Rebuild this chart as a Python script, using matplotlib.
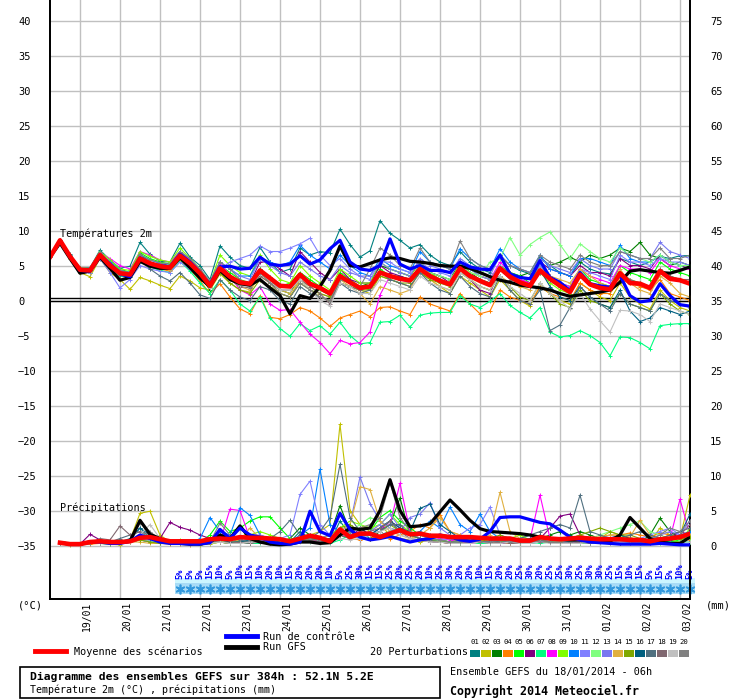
import matplotlib
matplotlib.use("Agg")
from matplotlib import pyplot as plt
from matplotlib.patches import Rectangle
from matplotlib.lines import Line2D

plt.rcParams['font.family'] = ['DejaVu Sans Mono', 'DejaVu Sans']

# run 18/01/2014 06h, one value every 6h up to 384h
HOURS_T = list(range(0, 385, 6))
HOURS_P = list(range(6, 385, 6))
DAY_HOURS = [18 + 24 * k for k in range(16)]
DATES = ["19/01", "20/01", "21/01", "22/01", "23/01", "24/01", "25/01", "26/01",
         "27/01", "28/01", "29/01", "30/01", "31/01", "01/02", "02/02", "03/02"]

# ---- temperatures 2m (degC), 65 values, 13 per row ----
T_MEAN = [6.2, 8.6, 6.3, 4.4, 4.3, 6.5, 5.0, 3.9, 3.7, 6.0, 5.3, 4.9, 4.7,
          6.4, 5.3, 3.9, 2.1, 4.6, 3.4, 2.6, 2.4, 4.3, 3.2, 2.1, 2.0, 3.7,
          2.4, 1.8, 1.0, 3.5, 2.6, 1.8, 2.0, 4.0, 3.5, 3.1, 2.9, 4.5, 3.5,
          2.8, 2.3, 4.6, 3.5, 2.8, 2.2, 4.6, 3.4, 2.6, 2.1, 4.3, 3.1, 2.1,
          1.2, 3.7, 2.3, 1.8, 1.6, 3.9, 2.5, 2.4, 1.8, 4.2, 3.1, 2.9, 2.4]
T_CTRL = [6.2, 8.5, 6.3, 4.3, 4.2, 6.4, 5.2, 3.8, 3.4, 6.1, 5.2, 5.0, 4.8,
          6.6, 5.5, 4.0, 2.3, 4.8, 4.9, 4.5, 4.6, 6.2, 5.2, 5.0, 5.2, 6.4,
          5.2, 5.8, 7.4, 8.6, 5.5, 4.5, 4.3, 5.0, 8.8, 5.2, 4.5, 5.0, 4.3,
          4.3, 4.0, 5.5, 4.8, 4.5, 4.4, 6.5, 3.8, 3.3, 3.1, 5.7, 3.3, 2.6,
          1.4, 4.0, 2.4, 2.1, 1.9, 3.6, 0.7, -0.2, 0.0, 2.4, 0.7, -0.6, -0.8]
T_GFS = [6.2, 8.2, 6.0, 3.9, 4.2, 6.2, 4.6, 2.9, 3.3, 5.6, 4.9, 4.6, 4.6,
         6.1, 4.7, 3.2, 2.0, 4.3, 3.0, 2.4, 2.2, 3.0, 1.8, 0.7, -1.9, 0.7,
         0.3, 2.0, 4.3, 7.8, 5.0, 4.8, 5.3, 5.8, 6.1, 6.0, 5.6, 5.5, 5.3,
         5.0, 4.9, 4.9, 4.6, 4.0, 3.4, 2.9, 2.6, 2.2, 2.0, 1.8, 1.5, 1.0,
         0.6, 0.8, 1.0, 1.2, 1.5, 2.6, 4.2, 4.4, 4.2, 4.0, 3.9, 4.3, 4.8]

T01 = [6.2, 8.5, 6.6, 4.6, 4.7, 7.2, 5.8, 4.6, 4.9, 8.3, 6.6, 5.6, 5.5,
       8.2, 6.2, 5.0, 3.0, 7.8, 6.2, 5.0, 4.6, 7.6, 5.5, 4.0, 4.5, 7.5,
       6.5, 7.0, 6.8, 10.2, 8.0, 6.2, 7.1, 11.4, 9.6, 8.6, 7.5, 8.0, 6.5,
       5.5, 5.0, 7.0, 5.5, 4.5, 4.0, 6.5, 5.0, 4.3, 3.8, 6.2, 5.0, 4.0,
       3.5, 5.5, 4.5, 4.0, 3.8, 6.0, 5.5, 5.0, 5.5, 6.3, 6.0, 6.4, 6.4]
T02 = [6.2, 8.3, 6.0, 4.0, 3.4, 6.0, 4.0, 3.0, 1.6, 3.3, 2.8, 2.2, 1.7,
       3.5, 2.8, 1.8, 1.5, 3.8, 2.5, 1.5, 1.2, 4.0, 2.5, 1.0, 0.5, 3.0,
       1.5, 0.5, 0.0, 2.5, 2.0, 1.5, 1.0, 3.5, 3.0, 2.5, 2.0, 4.0, 3.0,
       2.0, 1.0, 3.5, 2.5, 1.5, 0.5, 3.0, 1.5, 0.0, -0.8, 2.0, 1.0, 0.0,
       -0.5, 2.5, 1.5, 0.5, 0.0, 2.5, 0.5, -0.5, -1.2, 1.5, 0.0, -1.0, -1.5]
T03 = [6.2, 8.6, 6.4, 4.6, 4.5, 6.8, 5.5, 4.0, 3.8, 6.5, 5.5, 5.0, 4.8,
       6.8, 5.5, 3.5, 1.5, 5.0, 3.5, 2.5, 2.0, 4.5, 3.0, 1.5, 1.0, 3.5,
       2.5, 1.5, 0.8, 3.0, 2.5, 2.0, 2.5, 5.0, 4.5, 4.0, 3.5, 5.5, 4.0,
       3.5, 3.0, 5.5, 4.0, 3.0, 2.5, 4.5, 4.0, 3.5, 4.0, 6.0, 5.0, 5.5,
       6.2, 5.5, 6.5, 6.0, 6.5, 7.5, 7.0, 8.3, 6.5, 6.0, 5.0, 5.5, 5.0]
T04 = [6.2, 8.4, 6.2, 4.2, 4.0, 6.3, 4.8, 3.5, 3.4, 5.8, 5.0, 4.5, 4.2,
       5.8, 4.5, 2.8, 1.0, 2.4, 0.5, -1.2, -1.9, 0.7, -2.4, -2.6, -2.0, -1.0,
       -1.5, -2.5, -3.7, -2.5, -2.0, -1.5, -2.3, -1.0, -0.9, -1.5, -2.0, 0.5, -0.5,
       -1.0, -1.5, 1.0, -0.5, -1.9, -1.5, 1.5, 0.5, 0.0, -0.5, 2.0, 1.0, 0.5,
       0.0, 2.5, 1.5, 1.0, 1.0, 3.0, 2.5, 2.0, 1.5, 3.0, 1.0, 0.5, 0.0]
T05 = [6.2, 8.6, 6.4, 4.5, 4.5, 6.8, 5.5, 4.5, 4.0, 6.8, 6.0, 5.5, 5.2,
       7.0, 5.8, 4.0, 2.5, 5.0, 4.0, 3.0, 2.5, 4.5, 3.0, 2.0, 2.5, 4.0,
       3.0, 2.0, 1.0, 4.0, 3.0, 2.0, 1.5, 4.5, 3.5, 3.5, 3.0, 5.0, 4.0,
       3.0, 2.5, 5.5, 4.5, 3.5, 3.0, 5.0, 4.0, 3.5, 2.5, 5.0, 3.5, 2.5,
       2.0, 4.5, 3.0, 2.5, 2.0, 5.0, 4.0, 3.5, 3.0, 5.5, 4.5, 4.0, 3.5]
T06 = [6.2, 8.6, 6.3, 4.3, 4.3, 6.5, 5.0, 4.0, 3.7, 6.0, 5.5, 5.0, 4.8,
       6.5, 5.0, 3.5, 2.5, 5.0, 3.0, 2.0, 2.5, 5.5, 5.5, 4.5, 3.5, 7.0,
       5.5, 4.0, 3.0, 4.5, 3.0, 2.5, 2.5, 5.0, 4.0, 3.5, 3.0, 5.0, 4.0,
       3.5, 2.5, 4.5, 3.0, 1.5, 1.0, 4.5, 3.5, 3.0, 2.5, 5.5, 4.5, 4.0,
       3.5, 5.0, 4.0, 4.0, 3.5, 6.0, 5.0, 5.0, 4.5, 6.5, 5.5, 5.0, 4.5]
T07 = [6.2, 8.5, 6.2, 4.2, 4.0, 6.2, 4.6, 3.5, 3.3, 5.6, 4.8, 4.3, 4.0,
       5.6, 4.2, 2.5, 1.0, 3.0, 1.5, -0.5, -1.5, 0.5, -2.5, -4.0, -5.1, -3.3,
       -4.3, -3.6, -4.8, -3.1, -5.0, -6.2, -6.0, -3.1, -3.0, -2.1, -3.8, -2.1, -1.8,
       -1.7, -1.7, 0.7, -0.5, -1.0, -0.1, 1.0, -0.7, -1.7, -2.5, -1.0, -4.5, -5.2,
       -5.0, -4.3, -5.0, -6.0, -7.9, -5.2, -5.3, -6.0, -6.9, -3.6, -3.4, -3.3, -3.3]
T08 = [6.2, 8.6, 6.4, 4.5, 4.5, 6.8, 6.0, 5.0, 4.5, 7.0, 6.5, 5.8, 5.5,
       7.0, 5.8, 4.3, 2.5, 5.5, 3.5, 1.5, 0.8, 2.0, -0.5, -1.4, -1.3, -3.1,
       -4.8, -6.0, -7.6, -5.7, -6.2, -6.0, -4.5, 0.8, 3.5, 3.0, 2.5, 4.5, 3.5,
       3.0, 2.5, 5.0, 4.0, 3.5, 3.0, 5.5, 4.0, 3.0, 2.5, 4.5, 3.5, 2.5,
       2.0, 4.5, 3.5, 3.0, 2.5, 5.0, 4.5, 4.5, 4.0, 6.0, 5.0, 4.5, 4.5]
T09 = [6.2, 8.6, 6.5, 4.6, 4.6, 7.0, 5.8, 4.5, 4.3, 7.0, 6.3, 5.8, 5.5,
       7.5, 6.0, 4.5, 2.5, 6.5, 5.0, 4.0, 3.5, 6.5, 4.5, 3.0, 2.5, 5.0,
       3.5, 2.5, 1.5, 4.5, 3.5, 2.5, 2.5, 5.5, 4.5, 4.0, 3.5, 5.5, 4.0,
       3.0, 2.5, 5.5, 4.0, 3.5, 3.0, 5.0, 3.5, 2.5, 2.0, 4.0, 2.5, 1.5,
       1.0, 3.5, 2.5, 2.0, 1.5, 4.0, 3.0, 2.5, 2.0, 4.5, 3.5, 3.0, 2.5]
T10 = [6.2, 8.6, 6.5, 4.5, 4.6, 6.8, 5.5, 4.3, 4.0, 6.5, 5.8, 5.3, 5.0,
       7.0, 5.5, 4.0, 2.5, 5.5, 4.5, 3.5, 3.5, 6.0, 5.5, 5.0, 5.5, 7.9,
       6.5, 5.5, 4.5, 6.5, 5.0, 4.0, 3.5, 6.0, 5.0, 4.5, 4.0, 7.0, 5.5,
       5.0, 4.5, 7.4, 6.0, 5.0, 4.5, 7.4, 5.5, 4.5, 4.0, 6.5, 4.5, 4.0,
       3.5, 6.0, 6.0, 5.5, 5.0, 7.9, 6.0, 5.5, 5.5, 6.5, 5.5, 5.0, 5.0]
T11 = [6.2, 8.6, 6.3, 4.3, 4.0, 6.0, 4.0, 1.8, 3.0, 5.0, 4.5, 4.2, 4.0,
       5.5, 4.5, 3.5, 2.0, 4.5, 5.5, 6.0, 6.5, 7.8, 7.0, 7.0, 7.5, 8.1,
       8.9, 6.5, 5.0, 6.0, 4.5, 3.5, 3.0, 5.5, 5.5, 4.5, 4.0, 5.5, 4.5,
       4.0, 3.5, 5.5, 4.5, 3.5, 3.0, 5.0, 3.5, 2.5, 2.0, 5.0, 3.0, 2.0,
       1.5, 4.5, 4.0, 3.5, 3.0, 6.5, 5.5, 5.5, 5.0, 6.0, 5.5, 5.5, 5.0]
T12 = [6.2, 8.6, 6.3, 4.4, 4.4, 6.6, 5.2, 4.0, 3.8, 6.2, 5.5, 5.0, 4.8,
       6.0, 4.8, 3.5, 2.0, 4.0, 3.0, 2.5, 2.0, 4.0, 3.0, 2.0, 2.0, 3.5,
       2.5, 1.5, 1.0, 3.0, 2.5, 1.5, 2.0, 4.0, 3.5, 3.0, 3.0, 5.0, 4.0,
       3.5, 3.0, 5.0, 4.0, 3.5, 5.5, 6.0, 9.0, 6.5, 8.0, 9.0, 9.8, 8.0,
       6.0, 8.1, 7.0, 6.0, 5.5, 7.5, 6.5, 6.0, 5.5, 6.5, 5.5, 5.0, 5.0]
T13 = [6.2, 8.6, 6.4, 4.5, 4.6, 6.8, 5.3, 4.2, 4.0, 6.3, 5.5, 5.0, 4.8,
       6.5, 5.5, 4.0, 2.5, 5.5, 4.5, 3.5, 3.0, 6.0, 5.0, 4.0, 3.5, 5.5,
       4.5, 3.5, 3.0, 5.0, 4.0, 3.5, 3.5, 5.5, 4.5, 4.0, 3.5, 6.0, 5.0,
       4.5, 4.0, 6.0, 5.0, 4.0, 3.5, 6.5, 5.0, 4.5, 4.0, 6.0, 5.0, 4.5,
       4.0, 6.0, 5.0, 4.5, 4.5, 7.0, 6.5, 6.0, 6.0, 8.3, 7.0, 6.5, 6.0]
T14 = [6.2, 8.5, 6.2, 4.2, 4.1, 6.3, 4.8, 3.7, 3.5, 5.8, 5.0, 4.6, 4.4,
       6.0, 4.8, 3.5, 2.0, 4.2, 3.0, 2.0, 1.5, 3.5, 2.5, 1.5, 1.0, 3.0,
       2.0, 1.0, 0.5, 3.0, 2.0, 1.0, -0.5, 2.0, 1.5, 1.0, 1.5, 4.5, 3.0,
       2.0, 1.5, 4.0, 3.0, 2.0, 1.5, 3.5, 2.5, 2.0, 1.5, 4.5, 3.5, 3.0,
       2.5, 4.5, 3.5, 2.5, 2.0, 4.5, 2.5, 1.5, 1.0, 3.5, 2.5, 1.0, 0.5]
T15 = [6.2, 8.5, 6.3, 4.3, 4.3, 6.5, 4.9, 3.8, 3.6, 5.9, 5.2, 4.8, 4.6,
       6.2, 5.0, 3.5, 1.8, 4.0, 2.5, 1.5, 1.0, 3.0, 2.0, 1.0, 0.5, 2.5,
       1.5, 1.0, 0.5, 2.5, 2.0, 1.5, 1.5, 3.5, 3.0, 2.5, 2.5, 4.0, 3.0,
       2.5, 2.0, 4.0, 3.0, 2.0, 1.5, 3.5, 2.0, 0.5, 0.0, 2.5, 1.0, -0.5,
       -1.0, 1.5, 0.0, -0.5, -1.0, 1.0, -0.5, -1.0, -1.5, 1.0, -0.5, -1.5, -2.0]
T16 = [6.2, 8.6, 6.4, 4.4, 4.4, 6.6, 5.1, 4.0, 3.8, 6.1, 5.4, 5.0, 4.8,
       6.5, 5.4, 4.0, 2.2, 4.7, 3.5, 2.7, 2.5, 4.4, 3.3, 2.2, 2.1, 3.8,
       2.5, 1.9, 1.1, 3.6, 2.7, 1.9, 2.1, 4.1, 3.6, 3.2, 3.0, 4.6, 3.6,
       2.9, 2.4, 4.7, 3.6, 2.9, 2.3, 4.7, 3.5, 2.7, 2.2, 4.4, 2.0, 0.5,
       0.0, 2.0, 0.5, -0.5, -1.0, 1.5, -1.5, -3.0, -2.5, -1.0, -1.5, -2.0, -1.5]
T17 = [6.2, 8.6, 6.2, 4.2, 4.2, 6.3, 4.7, 3.6, 3.4, 5.8, 4.5, 3.5, 2.8,
       4.0, 2.5, 0.8, 0.3, 3.0, 1.5, 0.5, 0.0, 2.0, 1.5, 0.0, -0.5, 2.0,
       1.0, 0.5, 0.0, 2.5, 1.5, 1.0, 1.5, 4.0, 3.0, 2.5, 2.0, 4.0, 2.5,
       1.5, 1.0, 3.5, 2.0, 1.0, 0.5, 3.5, 1.5, 0.0, -0.5, 1.5, -4.3, -3.5,
       -1.0, 2.0, 0.5, -0.5, -1.5, 1.0, -0.5, -1.0, -1.5, 1.0, 0.0, -0.5, -1.0]
T18 = [6.2, 8.6, 6.3, 4.4, 4.3, 6.5, 5.1, 4.0, 3.7, 6.0, 5.3, 4.9, 4.7,
       6.3, 5.2, 3.7, 1.8, 4.3, 3.0, 2.0, 1.8, 3.5, 2.5, 1.5, 1.5, 3.0,
       2.0, 1.0, -0.5, 2.5, 2.0, 1.5, 2.0, 4.0, 3.5, 3.0, 3.0, 4.5, 3.5,
       3.0, 2.5, 4.5, 3.5, 3.0, 2.5, 4.5, 3.0, 2.5, 2.0, 4.0, 3.0, 2.0,
       1.5, 3.5, 2.5, 2.0, 1.5, 4.0, 3.0, 2.5, 2.0, 4.5, 3.5, 3.0, 3.0]
T19 = [6.2, 8.6, 6.3, 4.3, 4.3, 6.4, 5.0, 3.9, 3.6, 5.9, 5.2, 4.8, 4.6,
       6.2, 5.1, 3.6, 1.8, 4.3, 3.0, 2.2, 2.0, 3.8, 2.8, 1.5, 1.5, 3.0,
       1.5, 0.0, -0.8, 2.5, 2.0, 1.0, 1.0, 3.0, 2.5, 2.0, 1.5, 3.5, 2.5,
       2.0, 1.5, 4.0, 3.0, 2.0, 1.5, 3.5, 2.0, 1.0, 0.0, 2.5, 1.0, 0.0,
       -1.2, 1.0, -1.2, -2.9, -4.5, -1.4, -1.5, -2.0, -3.0, -0.5, -1.0, -1.5, -2.0]
T20 = [6.2, 8.6, 6.4, 4.6, 4.6, 6.9, 5.4, 4.3, 4.0, 6.6, 5.8, 5.4, 5.2,
       7.0, 6.0, 4.5, 2.8, 5.5, 4.5, 3.0, 2.0, 4.0, 2.5, 1.0, 0.5, 2.5,
       1.5, 0.5, 0.0, 3.0, 2.5, 2.0, 4.5, 7.5, 6.5, 5.0, 4.5, 7.5, 5.5,
       5.0, 4.5, 8.5, 6.0, 5.0, 4.5, 6.5, 5.0, 4.5, 4.0, 6.5, 5.5, 5.0,
       4.5, 6.5, 5.5, 5.0, 5.0, 7.0, 6.5, 6.0, 6.0, 7.5, 6.0, 6.0, 6.5]

# ---- precipitation (mm / 6h), 64 values: 12 then 4 rows of 13 ----
P_MEAN = [0.4, 0.2, 0.2, 0.5, 0.6, 0.5, 0.5, 0.6, 1.1, 1.2, 0.9, 0.6,
          0.6, 0.6, 0.6, 0.9, 1.0, 0.9, 1.2, 1.1, 1.1, 1.0, 0.9, 0.6, 1.0,
          1.4, 1.1, 0.6, 2.3, 1.2, 1.7, 1.7, 1.2, 1.7, 2.2, 1.6, 1.7, 1.4,
          1.4, 1.2, 1.2, 1.2, 1.1, 1.0, 1.0, 1.0, 0.7, 0.7, 1.2, 1.0, 0.9,
          1.0, 1.1, 1.0, 0.9, 0.9, 0.9, 0.8, 0.8, 0.6, 0.9, 1.0, 1.2, 1.7]
P_CTRL = [0.4, 0.2, 0.2, 0.5, 0.5, 0.3, 0.3, 0.6, 1.5, 1.0, 0.5, 0.3,
          0.3, 0.2, 0.2, 0.4, 2.3, 1.0, 2.5, 1.5, 1.2, 0.5, 0.3, 0.2, 0.5,
          4.9, 2.0, 1.4, 4.6, 2.3, 1.2, 0.8, 1.0, 1.3, 0.9, 0.5, 0.8, 1.0,
          1.5, 1.2, 0.8, 0.6, 0.9, 2.0, 4.0, 4.1, 4.1, 3.7, 3.3, 3.1, 2.2,
          1.2, 0.8, 0.5, 0.4, 0.3, 0.2, 0.2, 0.2, 0.2, 0.3, 0.2, 0.1, 0.1]
P_GFS = [0.4, 0.2, 0.2, 0.5, 0.6, 0.4, 0.4, 0.6, 3.6, 1.6, 1.0, 0.5,
         0.3, 0.2, 0.2, 0.5, 1.5, 1.0, 2.8, 1.0, 0.5, 0.2, 0.1, 0.2, 0.5,
         0.5, 0.3, 0.4, 1.5, 2.5, 2.3, 2.5, 5.0, 9.4, 5.0, 2.7, 2.8, 3.1,
         4.8, 6.5, 5.1, 3.6, 2.4, 2.0, 1.9, 1.8, 1.7, 1.5, 1.2, 1.0, 0.9,
         0.8, 0.8, 0.7, 0.6, 0.6, 1.5, 4.0, 2.5, 1.0, 0.5, 0.3, 0.3, 1.2]

P01 = [0.4, 0.2, 0.2, 0.5, 0.8, 0.6, 0.5, 0.8, 2.5, 1.0, 0.5, 0.3,
       0.3, 0.2, 0.2, 0.3, 2.0, 1.0, 0.5, 0.8, 0.6, 0.5, 0.3, 0.5, 2.0,
       1.0, 0.5, 0.5, 3.5, 1.5, 2.0, 1.0, 1.5, 2.0, 2.5, 1.5, 2.0, 1.5,
       1.0, 1.5, 1.0, 0.8, 0.5, 0.5, 0.3, 0.5, 1.0, 1.5, 0.8, 0.5, 0.5,
       0.5, 0.3, 0.5, 0.8, 1.0, 0.5, 0.3, 0.5, 1.0, 0.8, 0.5, 0.5, 1.5]
P02 = [0.3, 0.1, 0.1, 0.3, 0.4, 0.2, 0.1, 0.8, 4.6, 4.9, 1.5, 0.5,
       0.3, 0.2, 0.1, 0.2, 0.5, 0.3, 0.5, 1.0, 0.8, 0.5, 0.3, 0.5, 1.0,
       1.5, 2.0, 3.0, 17.3, 5.0, 3.0, 2.0, 3.0, 1.5, 1.0, 0.8, 0.5, 0.8,
       0.5, 0.3, 0.3, 0.5, 0.8, 0.5, 0.8, 0.5, 0.3, 0.5, 0.8, 0.5, 0.3,
       0.5, 0.8, 0.5, 1.0, 2.0, 1.5, 1.0, 0.5, 0.5, 2.5, 1.5, 1.0, 7.2]
P03 = [0.4, 0.2, 0.2, 0.4, 0.5, 0.3, 0.3, 0.5, 1.2, 0.8, 0.5, 0.3,
       0.3, 0.2, 0.3, 0.5, 0.8, 0.5, 0.5, 0.5, 0.8, 0.5, 0.5, 1.0, 2.5,
       1.5, 1.0, 1.5, 5.7, 2.0, 1.0, 1.0, 2.0, 3.0, 6.8, 1.5, 1.0, 0.8,
       0.5, 0.5, 0.5, 0.8, 0.5, 0.5, 0.3, 0.5, 0.5, 0.8, 1.0, 1.5, 2.0,
       1.5, 2.0, 1.5, 1.0, 0.8, 0.5, 0.5, 0.5, 1.5, 3.9, 2.0, 1.0, 1.0]
P04 = [0.4, 0.2, 0.1, 0.2, 0.3, 0.2, 0.3, 0.5, 0.8, 0.5, 0.3, 0.2,
       0.2, 0.1, 0.2, 0.3, 0.5, 0.3, 0.5, 0.3, 0.5, 0.3, 0.3, 0.5, 1.0,
       0.8, 0.5, 0.8, 1.5, 1.0, 0.8, 1.0, 1.5, 1.0, 1.5, 2.0, 3.0, 2.5,
       4.4, 2.0, 1.5, 1.0, 0.8, 0.5, 0.5, 0.3, 0.3, 0.5, 0.8, 1.0, 0.8,
       0.5, 0.8, 1.0, 1.2, 1.5, 1.5, 1.8, 1.5, 1.2, 1.8, 1.5, 1.0, 0.8]
P05 = [0.4, 0.2, 0.2, 0.3, 0.5, 0.5, 0.5, 0.5, 0.8, 0.6, 0.5, 0.4,
       0.4, 0.3, 0.5, 1.5, 3.5, 2.0, 2.5, 3.5, 4.1, 4.1, 2.5, 1.0, 0.8,
       0.6, 0.5, 1.0, 1.5, 1.0, 1.5, 2.0, 4.0, 5.0, 3.5, 2.5, 1.5, 1.0,
       0.8, 0.5, 0.3, 0.5, 0.3, 0.5, 0.8, 0.5, 0.3, 0.3, 0.5, 0.5, 0.3,
       0.5, 0.3, 0.5, 0.8, 0.5, 0.3, 0.5, 0.8, 0.5, 0.3, 0.5, 0.8, 2.0]
P06 = [0.4, 0.2, 0.2, 1.6, 0.8, 0.3, 0.3, 0.5, 1.0, 0.8, 1.0, 3.3,
       2.6, 2.2, 1.5, 1.0, 0.8, 0.5, 0.5, 0.3, 0.5, 0.3, 0.3, 0.5, 0.8,
       1.0, 0.8, 0.5, 1.5, 1.0, 2.5, 1.5, 2.0, 3.5, 2.5, 1.5, 1.0, 0.5,
       0.5, 0.3, 0.5, 0.8, 1.0, 0.5, 0.5, 0.8, 0.5, 0.5, 1.0, 2.5, 4.2,
       4.5, 1.5, 1.0, 0.5, 0.5, 0.3, 0.5, 0.8, 0.5, 0.5, 1.0, 2.0, 1.5]
P07 = [0.4, 0.2, 0.2, 0.5, 0.3, 0.2, 0.3, 0.5, 0.8, 0.5, 0.3, 0.3,
       0.3, 0.2, 0.2, 0.3, 0.5, 0.3, 0.5, 0.3, 0.3, 0.5, 0.3, 0.5, 0.8,
       0.5, 0.5, 0.3, 0.8, 1.5, 1.0, 1.5, 2.5, 3.5, 2.0, 1.5, 1.0, 0.8,
       0.5, 0.5, 0.3, 0.5, 0.3, 0.3, 0.5, 0.8, 0.5, 0.5, 0.3, 0.5, 0.3,
       0.3, 0.5, 0.3, 0.5, 0.3, 0.5, 0.3, 0.3, 0.5, 0.3, 0.5, 0.5, 0.5]
P08 = [0.4, 0.2, 0.2, 0.3, 0.5, 0.3, 0.3, 0.5, 0.8, 0.6, 0.4, 0.3,
       0.3, 0.2, 0.3, 0.8, 0.5, 5.2, 5.0, 1.0, 0.5, 0.3, 0.5, 0.5, 0.8,
       0.8, 0.5, 0.5, 1.5, 1.5, 2.0, 1.5, 2.5, 3.0, 8.9, 2.0, 1.0, 0.8,
       1.0, 0.8, 0.5, 0.3, 0.5, 0.5, 0.3, 0.5, 0.5, 0.8, 7.2, 1.0, 0.5,
       0.3, 0.5, 0.8, 0.5, 0.3, 0.5, 0.3, 0.5, 0.3, 0.5, 1.0, 6.6, 1.5]
P09 = [0.4, 0.2, 0.2, 0.3, 0.3, 0.5, 0.8, 0.5, 1.0, 0.8, 0.5, 0.5,
       0.8, 0.5, 0.3, 0.5, 1.0, 0.8, 1.0, 1.5, 2.0, 1.5, 1.0, 0.8, 1.0,
       0.8, 1.0, 1.5, 2.5, 3.5, 3.0, 2.5, 3.0, 4.5, 3.0, 2.0, 1.5, 1.0,
       0.8, 0.5, 0.5, 0.8, 1.0, 0.5, 0.5, 1.0, 1.5, 0.8, 0.5, 0.5, 0.5,
       0.8, 0.5, 0.5, 0.5, 1.0, 1.5, 0.8, 0.5, 0.5, 1.0, 0.8, 0.5, 2.5]
P10 = [0.4, 0.2, 0.2, 0.5, 0.5, 0.3, 0.3, 0.5, 1.0, 0.8, 0.5, 0.3,
       0.3, 0.3, 1.0, 4.0, 2.0, 1.5, 5.4, 4.3, 1.5, 1.0, 0.5, 0.5, 1.5,
       2.5, 10.9, 3.0, 2.0, 1.5, 1.0, 1.5, 2.5, 3.5, 2.0, 1.5, 2.0, 3.5,
       2.5, 5.5, 3.0, 2.0, 4.5, 2.0, 1.0, 0.8, 0.5, 0.5, 0.8, 0.5, 0.5,
       0.5, 0.8, 1.0, 0.8, 0.5, 0.5, 0.5, 1.0, 0.8, 0.5, 1.0, 1.5, 2.0]
P11 = [0.4, 0.2, 0.2, 0.3, 0.5, 0.3, 0.5, 0.8, 1.0, 0.8, 0.5, 0.5,
       0.5, 0.3, 0.5, 0.8, 1.0, 0.8, 1.0, 1.5, 1.5, 1.0, 1.0, 1.5, 7.3,
       9.2, 3.0, 1.5, 2.0, 1.5, 1.0, 2.0, 3.0, 4.5, 2.5, 1.5, 1.5, 1.0,
       0.8, 1.0, 1.5, 2.5, 3.0, 5.5, 1.5, 1.0, 0.8, 0.5, 0.8, 1.0, 0.8,
       0.5, 0.5, 0.8, 1.0, 1.5, 1.0, 0.8, 1.0, 1.5, 2.0, 2.5, 1.5, 3.5]
P12 = [0.4, 0.2, 0.2, 0.3, 0.3, 0.3, 0.5, 0.5, 0.8, 0.6, 0.4, 0.3,
       0.3, 0.3, 0.5, 0.5, 0.8, 0.5, 0.5, 0.8, 1.0, 0.8, 0.5, 0.5, 0.8,
       1.0, 0.8, 1.0, 1.5, 2.0, 3.0, 4.0, 3.5, 2.5, 2.0, 1.5, 1.0, 0.8,
       0.8, 0.5, 0.5, 0.8, 0.5, 1.0, 0.8, 0.5, 0.5, 0.8, 1.0, 0.8, 0.5,
       0.5, 0.8, 1.0, 1.5, 2.0, 2.5, 3.0, 3.5, 2.0, 1.5, 1.0, 0.8, 1.0]
P13 = [0.4, 0.2, 0.2, 0.3, 0.5, 0.3, 0.3, 0.5, 0.8, 0.5, 0.3, 0.3,
       0.3, 0.3, 0.5, 0.5, 0.8, 1.0, 0.8, 0.5, 0.8, 0.5, 0.5, 0.8, 1.0,
       1.5, 1.0, 1.5, 2.0, 3.0, 9.8, 6.0, 3.5, 2.5, 2.0, 4.0, 4.5, 6.1,
       2.5, 1.5, 1.0, 0.8, 0.5, 0.5, 0.8, 0.5, 0.5, 0.3, 0.5, 0.8, 0.5,
       0.5, 0.5, 0.3, 0.5, 0.8, 0.5, 0.5, 0.8, 1.0, 1.5, 2.0, 1.5, 1.5]
P14 = [0.4, 0.2, 0.2, 0.3, 0.3, 0.3, 0.3, 0.5, 0.5, 0.3, 0.3, 0.3,
       0.3, 0.2, 0.2, 0.3, 0.5, 0.5, 0.8, 2.5, 1.0, 0.8, 0.5, 0.8, 1.0,
       1.0, 0.8, 1.5, 2.0, 3.0, 8.4, 8.0, 3.5, 2.0, 1.5, 1.0, 1.5, 2.5,
       4.0, 2.0, 1.5, 1.0, 1.0, 1.5, 7.6, 2.0, 1.0, 0.8, 1.0, 0.8, 1.0,
       1.0, 1.5, 1.0, 1.2, 1.5, 1.5, 1.2, 3.6, 1.5, 1.0, 0.8, 1.0, 1.5]
P15 = [0.4, 0.2, 0.2, 0.3, 0.4, 0.3, 0.3, 0.5, 0.8, 0.5, 0.3, 0.3,
       0.3, 0.3, 0.3, 0.5, 0.5, 0.3, 0.5, 0.5, 0.5, 0.3, 0.3, 0.5, 0.8,
       1.0, 0.8, 1.0, 2.5, 3.0, 2.0, 1.5, 2.0, 3.0, 2.0, 1.5, 1.0, 0.8,
       0.5, 0.5, 0.8, 0.5, 0.5, 1.0, 1.5, 1.0, 0.5, 0.5, 0.8, 0.5, 0.5,
       1.0, 1.5, 2.0, 2.5, 2.0, 1.5, 1.5, 1.0, 0.8, 1.0, 1.5, 1.0, 1.2]
P16 = [0.4, 0.2, 0.2, 0.3, 0.4, 0.3, 0.5, 1.0, 2.5, 1.5, 0.8, 0.5,
       0.3, 0.2, 0.3, 0.5, 0.8, 0.5, 0.5, 0.8, 1.0, 0.8, 0.5, 0.5, 1.0,
       1.0, 0.8, 1.0, 2.0, 2.0, 2.5, 1.5, 2.5, 3.5, 2.5, 2.0, 5.3, 5.9,
       3.0, 2.0, 1.0, 0.8, 0.5, 0.5, 0.8, 0.5, 0.8, 1.0, 1.5, 1.0, 0.8,
       0.5, 0.8, 1.0, 0.8, 1.0, 1.5, 1.0, 0.8, 0.5, 0.5, 0.8, 1.5, 4.5]
P17 = [0.4, 0.2, 0.2, 0.3, 0.5, 0.5, 1.0, 1.5, 2.0, 1.0, 0.5, 0.3,
       0.3, 0.2, 0.5, 1.0, 1.5, 1.0, 0.8, 0.5, 0.5, 1.0, 2.0, 3.6, 1.5,
       1.0, 2.0, 4.0, 11.6, 4.0, 2.0, 1.5, 2.0, 3.0, 3.0, 1.5, 1.0, 0.8,
       0.8, 0.5, 0.5, 0.8, 1.0, 0.8, 0.5, 0.5, 1.0, 1.5, 2.0, 2.5, 3.0,
       2.5, 7.2, 2.0, 1.5, 1.0, 1.0, 1.5, 2.0, 1.5, 1.0, 1.5, 2.0, 2.5]
P18 = [0.4, 0.2, 0.2, 0.3, 1.0, 0.8, 2.8, 1.5, 2.0, 1.5, 0.8, 0.5,
       0.3, 0.2, 0.3, 0.5, 0.5, 0.3, 0.5, 0.3, 0.5, 0.3, 0.3, 0.5, 0.8,
       0.8, 0.5, 0.8, 1.5, 1.0, 1.5, 2.0, 2.5, 3.5, 2.0, 1.0, 0.8, 0.5,
       0.5, 0.3, 0.3, 0.5, 0.5, 0.3, 0.5, 0.3, 0.3, 0.5, 0.8, 0.5, 0.3,
       0.3, 0.5, 0.3, 0.5, 0.3, 0.3, 0.5, 0.5, 0.3, 0.5, 1.0, 1.5, 3.0]
P19 = [0.4, 0.2, 0.2, 0.3, 0.3, 0.3, 0.3, 0.5, 1.5, 3.0, 1.0, 0.5,
       0.3, 0.2, 0.3, 0.3, 0.5, 0.3, 0.3, 0.5, 0.5, 0.3, 0.3, 0.5, 0.5,
       0.5, 0.3, 0.5, 1.0, 0.8, 1.0, 1.5, 2.0, 2.5, 1.5, 1.0, 0.8, 0.5,
       0.5, 0.3, 0.3, 0.3, 0.5, 0.3, 0.3, 0.5, 0.3, 0.3, 0.5, 0.3, 0.3,
       0.3, 0.3, 0.5, 0.3, 0.3, 0.5, 0.3, 0.3, 0.5, 0.3, 0.3, 0.5, 0.5]
P20 = [0.4, 0.2, 0.2, 0.3, 0.5, 0.3, 0.5, 0.8, 3.2, 2.0, 0.8, 0.5,
       0.3, 0.2, 0.3, 0.5, 3.2, 1.5, 1.0, 0.8, 0.5, 0.5, 0.3, 0.5, 0.8,
       1.0, 0.8, 0.8, 1.5, 2.0, 2.5, 3.0, 4.0, 9.0, 4.0, 2.0, 1.5, 1.0,
       0.8, 0.5, 0.5, 0.8, 0.5, 0.5, 0.8, 0.5, 0.5, 0.8, 0.5, 0.5, 0.5,
       0.5, 0.8, 0.5, 0.5, 0.8, 1.0, 0.8, 0.5, 0.8, 1.5, 2.5, 2.0, 3.5]

PERT_COLORS = ["#008080", "#c0c000", "#008000", "#ff8000", "#00ff00",
               "#800080", "#00ff80", "#ff00ff", "#80ff00", "#0080ff",
               "#8080ff", "#80ff80", "#7878f0", "#e0b040", "#80a800",
               "#006080", "#507080", "#806870", "#c0c0c0", "#808080"]
PERT_NAMES = ["%02d" % (k + 1) for k in range(20)]
PERT_T = [T01, T02, T03, T04, T05, T06, T07, T08, T09, T10,
          T11, T12, T13, T14, T15, T16, T17, T18, T19, T20]
PERT_P = [P01, P02, P03, P04, P05, P06, P07, P08, P09, P10,
          P11, P12, P13, P14, P15, P16, P17, P18, P19, P20]

# snow probability (%) from +78h to +384h
SNOW_HOURS = HOURS_T[13:]
SNOW_PCT = [5, 5, 5, 15, 10, 5, 10, 15, 10, 20,
            10, 15, 20, 20, 20, 10, 5, 25, 30, 15,
            15, 25, 20, 25, 20, 10, 25, 30, 20, 20,
            10, 15, 20, 20, 25, 30, 20, 25, 25, 30,
            25, 30, 30, 25, 15, 10, 15, 5, 15, 5,
            10, 5]

T_LIM = (-42.64, 42.93)
P_OFFSET = 35  # 0 mm sits on -35 degC

fig = plt.figure(figsize=(7.4, 7.0), dpi=100)
ax = fig.add_axes([50 / 740, 101 / 700, 640 / 740, 599 / 700])
ax2 = ax.twinx()

ax.set_xlim(0, 384)
ax.set_ylim(*T_LIM)
ax2.set_ylim(T_LIM[0] + P_OFFSET, T_LIM[1] + P_OFFSET)

ax.set_xticks(DAY_HOURS)
ax.set_xticklabels([])
ax.set_yticks(range(-35, 41, 5))
ax2.set_yticks(range(0, 76, 5))
ax.grid(True, color="#c0c0c0", lw=1)
ax.set_axisbelow(True)
ax.tick_params(axis="x", length=0)
ax.tick_params(axis="y", length=0, pad=23, labelsize=7.5)
for t in ax.yaxis.get_major_ticks():
    t.label1.set_horizontalalignment("left")
ax2.tick_params(axis="y", length=0, pad=14.5, labelsize=7.5)

for a in (ax, ax2):
    a.spines["top"].set_visible(False)
    for s in ("left", "right", "bottom"):
        a.spines[s].set_linewidth(1.3)

# double zero line
ax.axhline(0, color="black", lw=1.0, zorder=2)
ax.axhline(0.3, color="black", lw=1.0, zorder=2)

for i in range(20):
    ax.plot(HOURS_T, PERT_T[i], color=PERT_COLORS[i], lw=0.8,
            marker="+", ms=3, mew=0.7, zorder=3)
    ax2.plot(HOURS_P, PERT_P[i], color=PERT_COLORS[i], lw=0.8,
             marker="+", ms=3, mew=0.7, zorder=3)

ax.plot(HOURS_T, T_GFS, color="black", lw=2.3, zorder=4)
ax.plot(HOURS_T, T_CTRL, color="#0000ff", lw=2.3, zorder=5)
ax.plot(HOURS_T, T_MEAN, color="#ff0000", lw=3.3, zorder=6)
ax2.plot(HOURS_P, P_GFS, color="black", lw=2.3, zorder=4)
ax2.plot(HOURS_P, P_CTRL, color="#0000ff", lw=2.3, zorder=5)
ax2.plot(HOURS_P, P_MEAN, color="#ff0000", lw=3.3, zorder=6)

ax.text(6, 9.6, "Températures 2m", fontsize=7.3, va="center", ha="left", zorder=7)
ax.text(6, -29.6, "Précipitations", fontsize=7.3, va="center", ha="left", zorder=7)

# snow band with percentages
ax.add_patch(Rectangle((75, -40.4), 312, 0.7, color="#ccf6ff", lw=0,
                       clip_on=False, zorder=2))
ax.add_patch(Rectangle((75, -41.9), 312, 1.5, color="#a8dcf6", lw=0,
                       clip_on=False, zorder=2))
ax.plot(SNOW_HOURS, [-41.15] * len(SNOW_HOURS), ls="none", marker=(6, 2, 0),
        ms=7, mew=1.2, color="#3399dd", clip_on=False, zorder=3)
for h, p in zip(SNOW_HOURS, SNOW_PCT):
    ax.text(h, -39.85, "%d%%" % p, rotation=90, ha="center", va="bottom",
            color="#0000ff", fontsize=6.2, fontweight="bold", zorder=7)

xt = ax.get_xaxis_transform()
for h, d in zip(DAY_HOURS, DATES):
    ax.text(h + 4.2, -0.005, d, transform=xt, rotation=90, ha="center",
            va="top", fontsize=7.0)

# overlay in pixel coordinates for legend and captions
ov = fig.add_axes([0, 0, 1, 1])
ov.set_xlim(0, 740)
ov.set_ylim(700, 0)
ov.axis("off")

ov.text(18, 606, "(°C)", fontsize=7.5, va="center", ha="left")
ov.text(706, 606, "(mm)", fontsize=7.5, va="center", ha="left")

ov.add_line(Line2D([226, 257], [636, 636], color="#0000ff", lw=3.5))
ov.add_line(Line2D([226, 257], [647, 647], color="black", lw=3.5))
ov.add_line(Line2D([35, 66], [651, 651], color="#ff0000", lw=3.5))
ov.text(263, 637, "Run de contrôle", fontsize=7.3, va="center")
ov.text(263, 647, "Run GFS", fontsize=7.3, va="center")
ov.text(74, 652, "Moyenne des scénarios", fontsize=7.3, va="center")
ov.text(370, 652, "20 Perturbations", fontsize=7.3, va="center")
for k, (c, n) in enumerate(zip(PERT_COLORS, PERT_NAMES)):
    x0 = 470 + 11 * k
    ov.add_patch(Rectangle((x0, 650), 9.5, 6.5, color=c, lw=0))
    ov.text(x0 + 4.7, 642.5, n, fontsize=5.2, ha="center", va="center")

ov.add_patch(Rectangle((20, 667), 420, 31, fill=False, ec="black", lw=1.2))
ov.text(30, 676.5, "Diagramme des ensembles GEFS sur 384h : 52.1N 5.2E",
        fontsize=8.2, fontweight="bold", va="center")
ov.text(30, 690, "Température 2m (°C) , précipitations (mm)",
        fontsize=7.2, va="center")
ov.text(450, 672, "Ensemble GEFS du 18/01/2014 - 06h", fontsize=7.3, va="center")
ov.text(450, 691, "Copyright 2014 Meteociel.fr", fontsize=8.4,
        fontweight="bold", va="center")

fig.savefig("out.png", dpi=100)
